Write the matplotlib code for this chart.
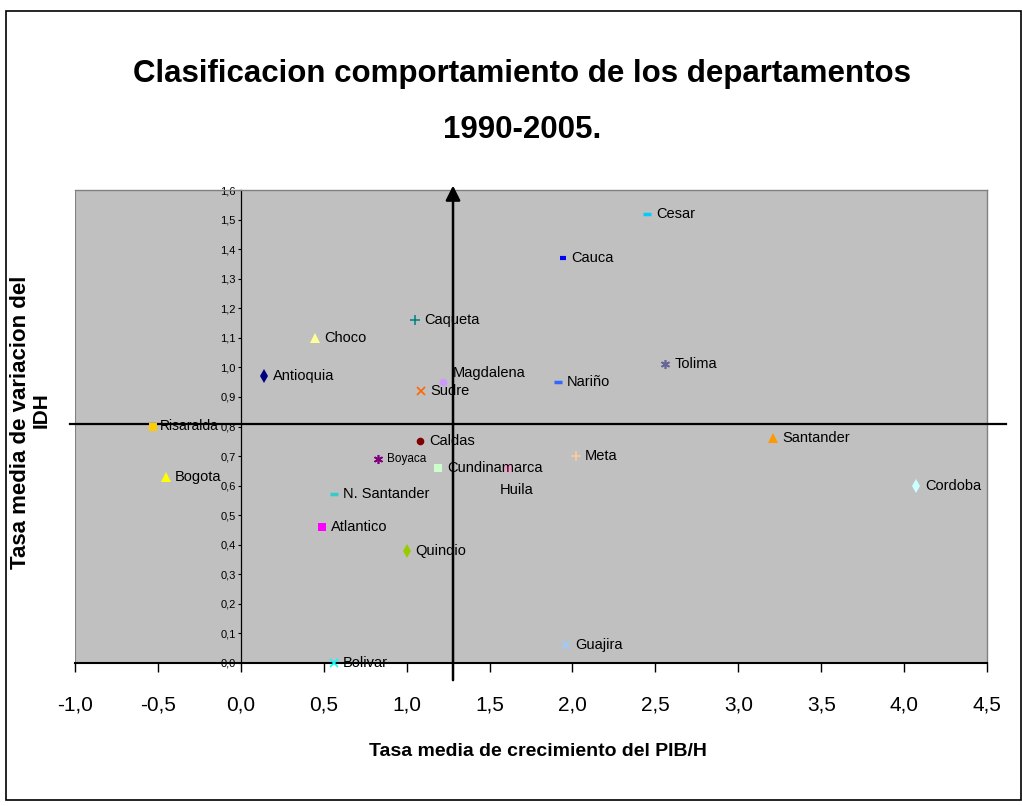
import matplotlib
matplotlib.use("Agg")
import matplotlib.pyplot as plt
from matplotlib import font_manager
from matplotlib.patches import Rectangle
from matplotlib.ticker import FuncFormatter, MultipleLocator

# narrow Excel-looking font when available
names = {f.name for f in font_manager.fontManager.ttflist}
FONT = "Liberation Sans Narrow" if "Liberation Sans Narrow" in names else "Liberation Sans"
plt.rcParams["font.family"] = [FONT, "DejaVu Sans"]

# data
departamentos = ["Antioquia", "Atlantico", "Bogota", "Bolivar", "Boyaca", "Caldas",
                 "Caqueta", "Cauca", "Cesar", "Choco", "Cordoba", "Cundinamarca",
                 "Guajira", "Huila", "Magdalena", "Meta", "Nariño", "N. Santander",
                 "Quindio", "Risaralda", "Santander", "Sudre", "Tolima"]
pib_h = [0.14, 0.49, -0.45, 0.56, 0.83, 1.08,
         1.05, 1.94, 2.45, 0.45, 4.07, 1.19,
         1.96, 1.61, 1.22, 2.02, 1.91, 0.56,
         1.00, -0.53, 3.21, 1.09, 2.56]
idh = [0.97, 0.46, 0.63, 0.00, 0.69, 0.75,
       1.16, 1.37, 1.52, 1.10, 0.60, 0.66,
       0.06, 0.66, 0.95, 0.70, 0.95, 0.57,
       0.38, 0.80, 0.76, 0.92, 1.01]
colores = ["#000080", "#FF00FF", "#FFFF00", "#00FFFF", "#800080", "#800000",
           "#008080", "#0000FF", "#00CCFF", "#FFFF99", "#CCFFFF", "#CCFFCC",
           "#99CCFF", "#FF99CC", "#CC99FF", "#FFCC99", "#3366FF", "#33CCCC",
           "#99CC00", "#FFCC00", "#FF9900", "#FF6600", "#666699"]
marcadores = ["diamond", "square", "triangle", "x", "star", "circle",
              "plus", "shortdash", "dash", "triangle", "diamond", "square",
              "x", "star", "circle", "plus", "dash", "dash",
              "diamond", "square", "triangle", "x", "star"]
x_ticks = [-1.0, -0.5, 0.0, 0.5, 1.0, 1.5, 2.0, 2.5, 3.0, 3.5, 4.0, 4.5]

# quadrant reference lines drawn by hand in the original
x_ref = 1.28
y_ref = 0.81

estilos = {
    "diamond": dict(marker="d", ms=7, mew=0),
    "square": dict(marker="s", ms=5.5, mew=0),
    "triangle": dict(marker="^", ms=6.5, mew=0),
    "x": dict(marker="x", ms=5.5, mew=1.2),
    "star": dict(marker=(6, 2, 0), ms=6.5, mew=1.2),
    "circle": dict(marker="o", ms=5.5, mew=0),
    "plus": dict(marker="+", ms=7.5, mew=1.1),
    "shortdash": dict(marker="_", ms=4, mew=3),
    "dash": dict(marker="_", ms=6, mew=2.5),
}
label_offset = {"Magdalena": (7, 6.5), "Huila": (-6, -16), "Risaralda": (5, 0)}
label_size = {"Boyaca": 8.5, "Risaralda": 10}

W, H = 1022, 806
fig = plt.figure(figsize=(W / 100, H / 100), dpi=100)
ax = fig.add_axes([74.7 / W, 1 - 663 / H, (987.3 - 74.7) / W, (663 - 190) / H])
ax.set_facecolor("#C0C0C0")
ax.set_xlim(-1.0, 4.5)
ax.set_ylim(0.0, 1.6)

for nom, x, y, c, m in zip(departamentos, pib_h, idh, colores, marcadores):
    ax.plot([x], [y], ls="none", color=c, clip_on=False, zorder=4, **estilos[m])
    dx, dy = label_offset.get(nom, (6.5, 0))
    ax.annotate(nom, (x, y), xytext=(dx, dy), textcoords="offset points",
                ha="left", va="center", fontsize=label_size.get(nom, 10.5), zorder=5)

# quadrant lines
ax.axhline(y_ref, xmin=-0.005, xmax=1.02, color="black", lw=1.6, clip_on=False, zorder=3)
ax.annotate("", xy=(x_ref, 1.615), xytext=(x_ref, -0.058),
            arrowprops=dict(arrowstyle="-|>", color="black", lw=1.8,
                            mutation_scale=22, shrinkA=0, shrinkB=0),
            annotation_clip=False, zorder=3)

# axes look
ax.spines["left"].set_position(("data", 0))
ax.spines["left"].set_color("black")
ax.spines["left"].set_linewidth(0.9)
ax.spines["bottom"].set_color("black")
ax.spines["bottom"].set_linewidth(1.5)
for s in ("top", "right"):
    ax.spines[s].set_color("#808080")
    ax.spines[s].set_linewidth(1.0)
ax.axvline(-1.0, color="#808080", lw=1.5, zorder=2)

coma = FuncFormatter(lambda v, p: f"{v:.1f}".replace(".", ","))
ax.set_xticks(x_ticks)
ax.xaxis.set_major_formatter(coma)
ax.yaxis.set_major_locator(MultipleLocator(0.1))
ax.yaxis.set_major_formatter(coma)
ax.tick_params(axis="x", direction="out", length=6.5, width=1, pad=17, labelsize=15)
ax.tick_params(axis="y", direction="out", length=2.5, width=0.8, pad=1, labelsize=8)

# titles
fig.text(522 / W, 1 - 102 / H, "Clasificacion comportamiento de los departamentos\n1990-2005.",
         ha="center", va="center", fontsize=22.5, fontweight="bold", linespacing=2.15)
fig.text(538 / W, 1 - 752 / H, "Tasa media de crecimiento del PIB/H",
         ha="center", va="center", fontsize=14, fontweight="bold")
fig.text(21 / W, 1 - 422 / H, "Tasa media de variacion del",
         ha="center", va="center", rotation=90, fontsize=16, fontweight="bold")
fig.text(41 / W, 1 - 410 / H, "IDH",
         ha="center", va="center", rotation=90, fontsize=15, fontweight="bold")

# outer chart frame
fig.add_artist(Rectangle((6 / W, 1 - 800 / H), (1021 - 6) / W, (800 - 11) / H,
                         transform=fig.transFigure, fill=False, ec="black", lw=1.2))

fig.savefig("out.png", dpi=100)
